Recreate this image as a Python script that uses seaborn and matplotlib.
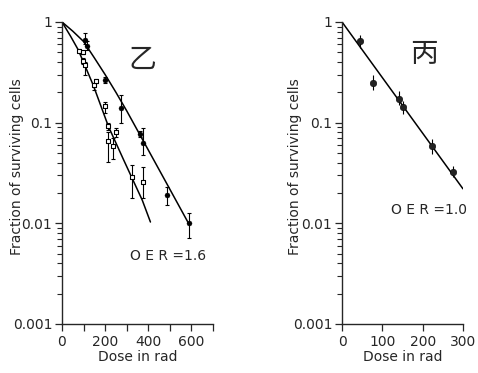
import numpy as np
import pandas as pd
import matplotlib
matplotlib.use("Agg")
import matplotlib.pyplot as plt
import seaborn as sns
from matplotlib.ticker import FixedLocator, LogLocator, NullFormatter

# Panel 乙 - filled circles
b_dose = [107, 116, 200, 275, 363, 377, 488, 590]
b_frac = [0.66, 0.58, 0.267, 0.14, 0.077, 0.063, 0.019, 0.010]
b_lo = [0.60, 0.53, 0.25, 0.099, 0.072, 0.048, 0.0152, 0.0072]
b_hi = [0.78, 0.64, 0.285, 0.188, 0.082, 0.089, 0.023, 0.0127]

# Panel 乙 - open squares
s_dose = [79, 98, 98, 107, 149, 158, 200, 214, 212, 237, 251, 324, 377]
s_frac = [0.52, 0.50, 0.41, 0.375, 0.235, 0.26, 0.145, 0.093, 0.065, 0.058, 0.080, 0.029, 0.026]
s_lo = [0.50, 0.48, 0.38, 0.30, 0.21, 0.25, 0.125, 0.085, 0.041, 0.044, 0.072, 0.018, 0.018]
s_hi = [0.54, 0.52, 0.44, 0.40, 0.25, 0.27, 0.16, 0.10, 0.081, 0.071, 0.089, 0.038, 0.036]

# Panel 乙 - drawn curves
cb_dose = [0, 50, 100, 150, 200, 250, 300, 400, 500, 590]
cb_frac = [1.0, 0.81, 0.64, 0.44, 0.30, 0.20, 0.131, 0.0535, 0.0218, 0.0097]
cs_dose = [0, 40, 75, 145, 215, 285, 372, 410]
cs_frac = [1.0, 0.72, 0.53, 0.235, 0.092, 0.043, 0.017, 0.0103]

# Panel 丙
c_dose = [44, 77, 141, 151, 222, 274]
c_frac = [0.65, 0.25, 0.17, 0.142, 0.0586, 0.0325]
c_lo = [0.555, 0.209, 0.15, 0.121, 0.049, 0.029]
c_hi = [0.745, 0.294, 0.204, 0.165, 0.069, 0.037]
cc_dose = [0, 300]
cc_frac = [1.0, 0.022]

sns.set_style("ticks")
plt.rcParams['font.family'] = ['DejaVu Sans', 'Noto Sans CJK SC']
plt.rcParams['axes.linewidth'] = 1.0

fig = plt.figure(figsize=(4.78, 3.73), dpi=100)
ax1 = fig.add_axes([0.1297, 0.1314, 0.3159, 0.8097])
ax2 = fig.add_axes([0.7155, 0.1314, 0.2531, 0.8097])


def errbars(ax, x, y, lo, hi, cap=1.5):
    y = np.array(y)
    yerr = [y - np.array(lo), np.array(hi) - y]
    ax.errorbar(x, y, yerr=yerr, fmt='none', ecolor='black',
                elinewidth=0.8, capsize=cap, capthick=0.8, zorder=2)


# left panel
sns.lineplot(x=cb_dose, y=cb_frac, ax=ax1, color='black', lw=1.1)
sns.lineplot(x=cs_dose, y=cs_frac, ax=ax1, color='black', lw=1.1)
errbars(ax1, b_dose, b_frac, b_lo, b_hi)
errbars(ax1, s_dose, s_frac, s_lo, s_hi)
sns.scatterplot(x=b_dose, y=b_frac, ax=ax1, marker='o', s=13,
                color='black', edgecolor='black', zorder=3)
sns.scatterplot(x=s_dose, y=s_frac, ax=ax1, marker='s', s=8,
                facecolor='white', edgecolor='black', linewidth=0.8, zorder=3)

# right panel
sns.lineplot(x=cc_dose, y=cc_frac, ax=ax2, color='black', lw=1.1)
errbars(ax2, c_dose, c_frac, c_lo, c_hi, cap=0)
sns.scatterplot(x=c_dose, y=c_frac, ax=ax2, marker='o', s=22,
                color='#222222', edgecolor='black', zorder=3)

for ax, xmax, xt, xl, lx in [(ax1, 700, [0, 100, 200, 300, 400, 500, 600, 700],
                              ['0', '', '200', '', '400', '', '600', ''], -0.25),
                             (ax2, 300, [0, 100, 200, 300],
                              ['0', '100', '200', '300'], -0.33)]:
    ax.set_yscale('log')
    ax.set_ylim(0.001, 1)
    ax.set_xlim(0, xmax)
    ax.set_xticks(xt)
    ax.set_xticklabels(xl)
    ax.yaxis.set_major_locator(FixedLocator([0.001, 0.01, 0.1, 1]))
    ax.set_yticklabels(['0.001', '0.01', '0.1', '1'])
    ax.yaxis.set_minor_locator(LogLocator(base=10, subs=np.arange(2, 10)))
    ax.yaxis.set_minor_formatter(NullFormatter())
    ax.tick_params(axis='both', which='major', length=5, width=0.9,
                   labelsize=10, pad=2, direction='out')
    ax.tick_params(axis='x', which='major', pad=3)
    ax.tick_params(axis='y', which='minor', length=3.5, width=0.8)
    ax.set_xlabel('Dose in rad', fontsize=10, labelpad=1)
    ax.set_ylabel('Fraction of surviving cells', fontsize=10)
    ax.yaxis.set_label_coords(lx, 0.52)
    sns.despine(ax=ax)
    ax.set_facecolor('white')

ax1.text(0.53, 0.875, '乙', transform=ax1.transAxes, fontsize=20,
         family=['Noto Sans CJK SC'], ha='center', va='center')
ax2.text(0.68, 0.895, '丙', transform=ax2.transAxes, fontsize=20,
         family=['Noto Sans CJK SC'], ha='center', va='center')
ax1.text(0.70, 0.225, 'O E R =1.6', transform=ax1.transAxes, fontsize=10,
         ha='center', va='center')
ax2.text(0.72, 0.378, 'O E R =1.0', transform=ax2.transAxes, fontsize=10,
         ha='center', va='center')

fig.savefig('out.png', dpi=100)
